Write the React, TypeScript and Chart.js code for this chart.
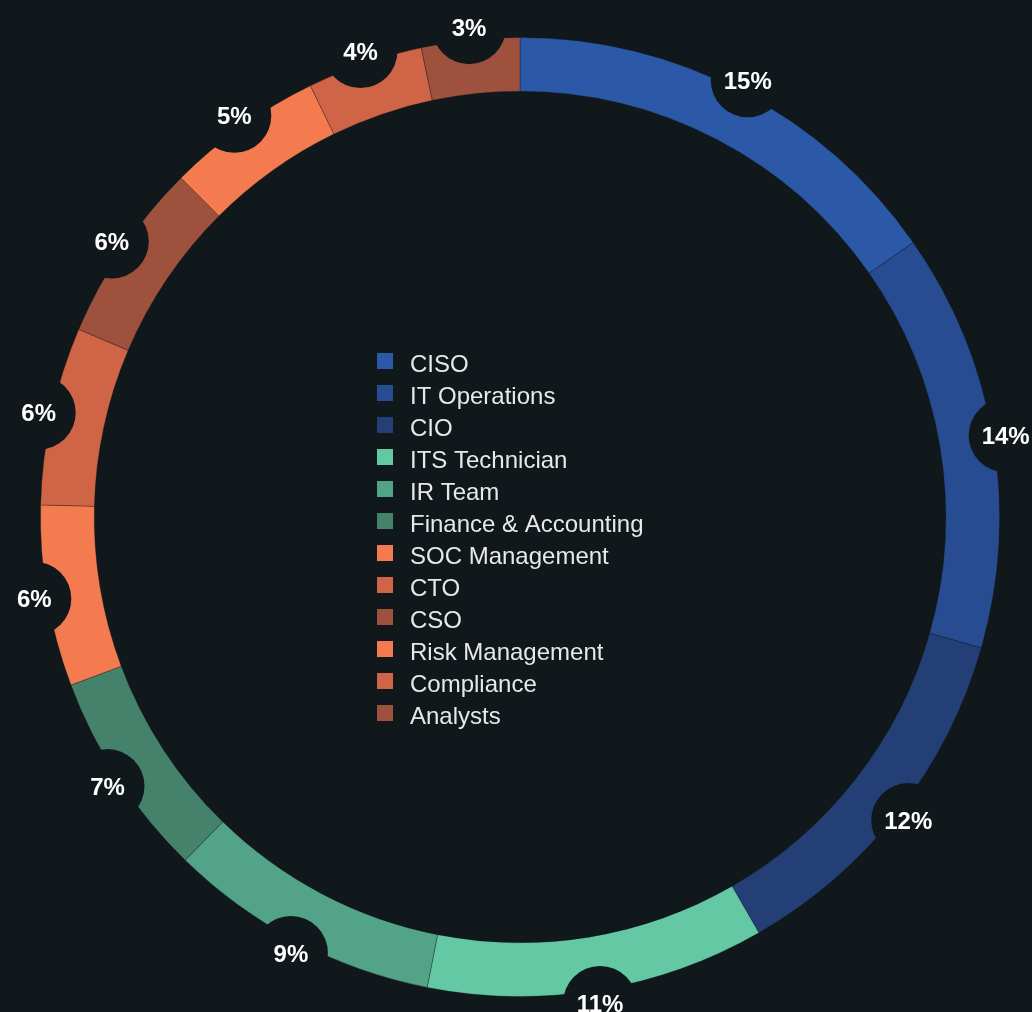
import React, { useEffect, useRef } from "react";
import Chart from "chart.js/auto";

const categories = [
  "CISO",
  "IT Operations",
  "CIO",
  "ITS Technician",
  "IR Team",
  "Finance & Accounting",
  "SOC Management",
  "CTO",
  "CSO",
  "Risk Management",
  "Compliance",
  "Analysts",
];
const shares = [15.3, 14.1, 12.3, 11.4, 9.2, 7.0, 6.1, 6.0, 6.1, 5.3, 3.9, 3.3];
const pctLabels = ["15%", "14%", "12%", "11%", "9%", "7%", "6%", "6%", "6%", "5%", "4%", "3%"];
const colors = [
  "#2c58a8",
  "#284c91",
  "#233f75",
  "#64c8a4",
  "#52a388",
  "#44826c",
  "#f47a50",
  "#cf6447",
  "#9e513d",
  "#f47a50",
  "#cf6447",
  "#9e513d",
];

const BG = "#11181b";

const overlayPlugin = {
  id: "overlay",
  afterDatasetsDraw(chart: any) {
    const ctx = chart.ctx;
    const meta = chart.getDatasetMeta(0);
    ctx.save();
    meta.data.forEach((arc: any, i: number) => {
      const mid = (arc.startAngle + arc.endAngle) / 2;
      const r = arc.outerRadius + 13;
      const x = arc.x + Math.cos(mid) * r;
      const y = arc.y + Math.sin(mid) * r;
      ctx.beginPath();
      ctx.fillStyle = BG;
      ctx.arc(x, y, 37, 0, Math.PI * 2);
      ctx.fill();
      ctx.fillStyle = "#ffffff";
      ctx.font = "bold 24px 'Liberation Sans', Arial, sans-serif";
      ctx.textAlign = "center";
      ctx.textBaseline = "middle";
      ctx.fillText(pctLabels[i], x, y + 2);
    });
    // legend in the centre
    const sq = 16;
    const pitch = 32;
    const firstTop = 353;
    const sqX = 377;
    const textX = 410;
    ctx.font = "24px 'Liberation Sans', Arial, sans-serif";
    ctx.textAlign = "left";
    ctx.textBaseline = "middle";
    categories.forEach((c, i) => {
      const top = firstTop + i * pitch;
      ctx.fillStyle = colors[i];
      ctx.fillRect(sqX, top, sq, sq);
      ctx.fillStyle = "#e8e8e8";
      ctx.fillText(c, textX, top + sq / 2 + 4);
    });
    ctx.restore();
  },
};

export default function App() {
  const ref = useRef<HTMLCanvasElement | null>(null);
  useEffect(() => {
    if (!ref.current) return;
    const chart = new Chart(ref.current, {
      type: "doughnut",
      data: {
        labels: categories,
        datasets: [
          {
            data: shares,
            backgroundColor: colors,
            borderColor: "rgba(17,24,27,0.3)",
            borderWidth: 1,
          },
        ],
      },
      options: {
        responsive: false,
        animation: false,
        cutout: "88.8%",
        layout: { padding: { left: 40, right: 32, top: 37, bottom: 15 } },
        plugins: {
          legend: { display: false },
          tooltip: { enabled: false },
        },
      },
      plugins: [overlayPlugin],
    });
    return () => chart.destroy();
  }, []);
  return (
    <div
      style={{
        position: "absolute",
        left: 0,
        top: 0,
        width: 1032,
        height: 1012,
        background: BG,
        overflow: "hidden",
      }}
    >
      <canvas ref={ref} width={1032} height={1012} style={{ display: "block" }} />
    </div>
  );
}
